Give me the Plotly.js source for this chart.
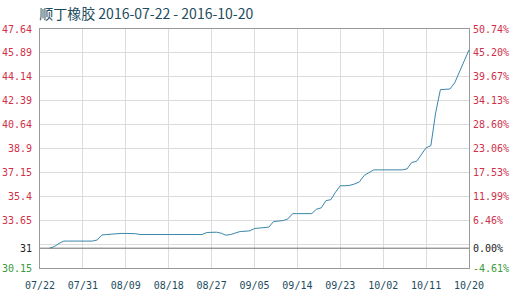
<!DOCTYPE html>
<html><head><meta charset="utf-8">
<script src="https://cdn.plot.ly/plotly-3.0.1.min.js"></script>
<style>html,body{margin:0;padding:0;background:#fff}#c{width:516px;height:298px}</style>
</head><body><div id="c"></div>
<script>
const dates = [
"2016-07-24","2016-07-25","2016-07-26","2016-07-27","2016-07-28","2016-07-29","2016-07-30","2016-07-31",
"2016-08-01","2016-08-02","2016-08-03","2016-08-04","2016-08-05","2016-08-06","2016-08-07","2016-08-08",
"2016-08-09","2016-08-10","2016-08-11","2016-08-12","2016-08-13","2016-08-14","2016-08-15","2016-08-16",
"2016-08-17","2016-08-18","2016-08-19","2016-08-20","2016-08-21","2016-08-22","2016-08-23","2016-08-24",
"2016-08-25","2016-08-26","2016-08-27","2016-08-28","2016-08-29","2016-08-30","2016-08-31",
"2016-09-01","2016-09-02","2016-09-03","2016-09-04","2016-09-05","2016-09-06","2016-09-07","2016-09-08",
"2016-09-09","2016-09-10","2016-09-11","2016-09-12","2016-09-13","2016-09-14","2016-09-15","2016-09-16",
"2016-09-17","2016-09-18","2016-09-19","2016-09-20","2016-09-21","2016-09-22","2016-09-23","2016-09-24",
"2016-09-25","2016-09-26","2016-09-27","2016-09-28","2016-09-29","2016-09-30",
"2016-10-01","2016-10-02","2016-10-03","2016-10-04","2016-10-05","2016-10-06","2016-10-07","2016-10-08",
"2016-10-09","2016-10-10","2016-10-11","2016-10-12","2016-10-13","2016-10-14","2016-10-15","2016-10-16",
"2016-10-17","2016-10-18","2016-10-19","2016-10-20"];
const prices = [
31.60,31.72,31.95,32.12,32.12,32.12,32.12,32.12,
32.12,32.12,32.20,32.57,32.60,32.64,32.68,32.68,
32.68,32.68,32.66,32.60,32.60,32.60,32.60,32.60,
32.60,32.60,32.60,32.60,32.60,32.60,32.60,32.60,
32.60,32.75,32.77,32.77,32.70,32.55,32.60,
32.72,32.82,32.84,32.87,33.04,33.08,33.11,33.14,
33.55,33.58,33.62,33.74,34.13,34.13,34.13,34.13,
34.13,34.45,34.55,35.08,35.15,35.70,36.17,36.17,
36.20,36.30,36.45,36.92,37.10,37.33,
37.33,37.33,37.33,37.33,37.33,37.33,37.40,37.88,
37.95,38.50,38.95,39.10,41.50,43.20,43.20,43.25,
43.70,44.55,45.32,46.11];
const BASE = 31.6;
const Y_MIN = 30.15, Y_MAX = 47.64;
const leftTickVals = [47.64,45.89,44.14,42.39,40.64,38.9,37.15,35.4,33.65,31.6,30.15];
const leftTickText = ["47.64","45.89","44.14","42.39","40.64","38.9","37.15","35.4","33.65","31","30.15"];
const rightTickText = ["50.74%","45.20%","39.67%","34.13%","28.60%","23.06%","17.53%","11.99%","6.46%","0.00%","-4.61%"];
const gridVals = [45.89,44.14,42.39,40.64,38.9,37.15,35.4,33.65,31.9];
const xTickVals = ["2016-07-22","2016-07-31","2016-08-09","2016-08-18","2016-08-27","2016-09-05","2016-09-14","2016-09-23","2016-10-02","2016-10-11","2016-10-20"];
const xTickText = ["07/22","07/31","08/09","08/18","08/27","09/05","09/14","09/23","10/02","10/11","10/20"];

const RED = "#d0304a", GREEN = "#3a9a3a", BLACK = "#222";
function colorize(texts){
  const n = texts.length;
  return texts.map((t,i)=>{
    const c = i===n-1 ? GREEN : (i===n-2 ? BLACK : RED);
    return '<span style="color:'+c+'">'+t+'</span>';
  });
}
const tickFont = {family:"DejaVu Sans Mono, monospace", size:10, color:RED};

const traces = [
  {x:[xTickVals[0], xTickVals[xTickVals.length-1]], y:[BASE,BASE], yaxis:"y3", mode:"lines",
   line:{color:"#6e6e6e", width:1}, hoverinfo:"skip", showlegend:false},
  {x:dates, y:prices, mode:"lines", line:{color:"#3a86ab", width:1}, showlegend:false},
  {x:[dates[0]], y:[prices[0]], yaxis:"y2", mode:"lines", opacity:0, showlegend:false, hoverinfo:"skip"}
];
const layout = {
  width:516, height:298,
  margin:{l:40, r:47, t:29, b:30, pad:0},
  paper_bgcolor:"#fff", plot_bgcolor:"#fff",
  showlegend:false,
  title:{text:"顺丁橡胶 2016-07-22 - 2016-10-20", x:0.076, xanchor:"left", xref:"container",
         y:0.952, yanchor:"middle", yref:"container",
         font:{family:"Noto Sans CJK SC, sans-serif", size:14, color:"#1d4c5e"}},
  xaxis:{type:"date", range:[xTickVals[0], xTickVals[xTickVals.length-1]],
         tickvals:xTickVals, ticktext:xTickText, ticks:"", ticklabelstandoff:8,
         tickfont:{family:"DejaVu Sans Mono, monospace", size:10, color:"#1d4c5e"},
         showgrid:true, gridcolor:"#dcdcdc", gridwidth:1,
         showline:true, linecolor:"#9a9a9a", linewidth:1, mirror:true, zeroline:false, fixedrange:true},
  yaxis:{range:[Y_MIN,Y_MAX], tickvals:leftTickVals, ticktext:colorize(leftTickText), ticks:"",
         ticklabelstandoff:5, tickfont:tickFont, showgrid:false, zeroline:false,
         showline:true, linecolor:"#9a9a9a", linewidth:1, mirror:true},
  yaxis2:{range:[Y_MIN,Y_MAX], overlaying:"y", side:"right", tickvals:leftTickVals,
          ticktext:colorize(rightTickText), ticks:"", ticklabelstandoff:3, tickfont:tickFont,
          showgrid:false, zeroline:false, showline:false},
  yaxis3:{range:[Y_MIN,Y_MAX], overlaying:"y", tickvals:gridVals, showticklabels:false, ticks:"",
          showgrid:true, gridcolor:"#dcdcdc", gridwidth:1, zeroline:false, showline:false}
};
Plotly.newPlot("c", traces, layout, {staticPlot:true, displayModeBar:false});
</script></body></html>
